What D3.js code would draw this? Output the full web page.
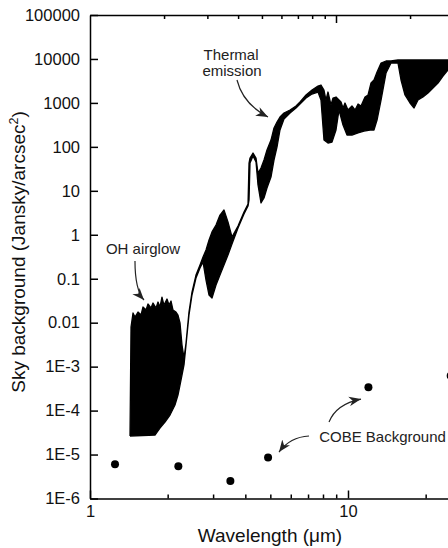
<!DOCTYPE html>
<html>
<head>
<meta charset="utf-8">
<script src="https://cdn.jsdelivr.net/npm/d3@7"></script>
<style>
	body { margin: 0; background: #fff; }
	svg { display: block; font-family: "Liberation Sans", Arial, Helvetica, sans-serif; }
	.axis path, .axis line { stroke: #000; stroke-width: 1.5px; fill: none; }
	.axis text { fill: #111; font-size: 16.5px; }
	.note { fill: #222; font-size: 15px; }
	.title { fill: #111; font-size: 19px; }
</style>
</head>
<body>
<div id="chart"></div>
<script>
// spectrum upper envelope (wavelength in um, sky background in Jy/arcsec2)
var topWl = [1.429, 1.442, 1.468, 1.494, 1.535, 1.576, 1.605, 1.649, 1.678, 1.723, 1.755, 1.803, 1.835, 1.867,
	1.901, 1.935, 1.988, 2.024, 2.061, 2.098, 2.154, 2.193, 2.233, 2.273, 2.314, 2.356, 2.419, 2.485, 2.575,
	2.669, 2.742, 2.816, 2.893, 2.971, 3.079, 3.190, 3.306, 3.426, 3.551, 3.747, 3.953, 4.097, 4.134, 4.171,
	4.284, 4.400, 4.479, 4.600, 4.725, 4.853, 5.029, 5.166, 5.306, 5.450, 5.648, 5.961, 6.288, 6.516, 6.876,
	7.252, 7.650, 7.857, 8.070, 8.216, 8.365, 8.592, 8.747, 8.985, 9.228, 9.395, 9.564, 9.736, 10.0, 10.36,
	10.65, 10.94, 11.23, 11.64, 11.96, 12.28, 12.61, 12.96, 13.43, 14.04, 14.68, 15.62, 24.42, 25.30];
var topJy = [2.64e-5, 0.00796, 0.0166, 0.0134, 0.0175, 0.0149, 0.0227, 0.0194, 0.0266, 0.0216, 0.0280, 0.0216, 0.0295, 0.0227,
	0.0383, 0.0252, 0.0345, 0.0252, 0.0311, 0.0194, 0.0175, 0.0149, 0.00982, 0.00310, 0.00157, 0.00344, 0.0175, 0.0498, 0.121,
	0.205, 0.312, 0.450, 0.760, 1.16, 1.67, 2.81, 3.66, 1.95, 0.889, 1.58, 3.29, 5.01, 42.9, 55.8,
	72.5, 55.8, 25.4, 33.0, 50.2, 84.8, 143, 269, 368, 478, 589, 689, 850, 1048, 1513,
	1966, 2424, 2555, 1966, 1164, 1770, 896, 1293, 1362, 1164, 1048, 766, 995, 689, 850,
	689, 944, 850, 1362, 1513, 2837, 3320, 5049, 8090, 8980, 8980, 9470, 9470, 9470];

// spectrum lower envelope
var botWl = [1.429, 1.786, 1.867, 1.953, 2.042, 2.135, 2.193, 2.233, 2.273, 2.314, 2.356, 2.419, 2.485, 2.575,
	2.669, 2.742, 2.816, 2.893, 2.971, 3.079, 3.190, 3.306, 3.426, 3.551, 3.747, 3.953, 4.097, 4.134, 4.171,
	4.284, 4.400, 4.479, 4.600, 4.725, 4.853, 5.029, 5.166, 5.306, 5.450, 5.648, 5.961, 6.288, 6.516, 6.876,
	7.252, 7.650, 7.857, 8.070, 8.365, 8.670, 8.985, 9.228, 9.564, 9.911, 10.36, 10.94, 11.54, 12.17, 12.61,
	12.96, 13.43, 14.04, 14.68, 15.62, 16.05, 16.63, 17.39, 18.03, 18.68, 19.53, 20.42, 21.35, 22.33, 23.35,
	24.42, 25.30];
var botJy = [2.64e-5, 2.78e-5, 4.01e-5, 5.49e-5, 7.92e-5, 1.34e-4, 2.26e-4, 3.81e-4, 6.44e-4, 1.09e-3, 3.10e-3, 0.0149, 0.0426, 0.104,
	0.175, 0.240, 0.0934, 0.0426, 0.0364, 0.0719, 0.121, 0.205, 0.346, 0.616, 1.42, 2.97, 4.51, 6.18, 42.9,
	61.9, 45.2, 13.6, 5.28, 6.86, 11.6, 20.6, 50.2, 99.2, 242, 430, 589, 766, 944, 1293,
	1594, 1770, 1164, 143, 122, 129, 242, 689, 314, 186, 186, 207, 229, 242, 242,
	408, 1164, 4789, 8090, 8090, 3320, 1513, 995, 766, 1164, 1362, 1680, 2183, 2837, 4094,
	5607, 6227];

// COBE background points
var cobeWl = [1.25, 2.2, 3.5, 4.9, 12, 25];
var cobeJy = [6.0e-6, 5.4e-6, 2.5e-6, 8.6e-6, 3.4e-4, 6.2e-4];

// axis ticks
var yTicks = [1e5, 1e4, 1e3, 1e2, 10, 1, 0.1, 0.01, 1e-3, 1e-4, 1e-5, 1e-6];
var yTickLabels = ["100000", "10000", "1000", "100", "10", "1", "0.1", "0.01", "1E-3", "1E-4", "1E-5", "1E-6"];
var xMajor = [1, 10];
var xMajorLabels = ["1", "10"];
var xMinor = [2, 3, 4, 5, 6, 7, 8, 9, 20];

// annotations: text anchor points and curved arrows [start, control, end], all in data units
var notes = [
	{ lines: ["Thermal", "emission"], wl: [3.521, 3.553], jy: [9470, 4094] },
	{ lines: ["OH airglow"], wl: [1.605], jy: [0.365] },
	{ lines: ["COBE Background"], wl: [13.61], jy: [1.93e-5] }
];
var arrows = [
	{ wl: [3.713, 3.917, 4.897], jy: [3320, 944, 478] },
	{ wl: [1.494, 1.494, 1.619], jy: [0.253, 0.0553, 0.0328] },
	{ wl: [7.062, 5.961, 5.402], jy: [2.64e-5, 2.50e-5, 1.14e-5] },
	{ wl: [8.441, 8.985, 11.23], jy: [5.49e-5, 1.41e-4, 1.83e-4] }
];

(function() {
	var W = 448, H = 548;
	var margin = { left: 90, top: 15, bottom: 498.5 };

	var svg = d3.select("#chart").append("svg")
		.attr("width", W)
		.attr("height", H);

	// the plot runs off the right edge of the picture
	var x = d3.scaleLog().domain([1, 30]).range([margin.left, margin.left + 258 * Math.log10(30)]);
	// the top frame ticks were drawn on a slightly compressed scale
	var xTop = d3.scaleLog().domain([1, 30]).range([margin.left, margin.left + 246 * Math.log10(30)]);
	var y = d3.scaleLog().domain([1e-6, 1e5]).range([margin.bottom, margin.top]);

	var defs = svg.append("defs");
	defs.append("clipPath").attr("id", "plot")
		.append("rect")
		.attr("x", margin.left).attr("y", margin.top)
		.attr("width", x.range()[1] - margin.left).attr("height", margin.bottom - margin.top);

	defs.append("marker")
		.attr("id", "head")
		.attr("markerUnits", "userSpaceOnUse")
		.attr("viewBox", "-12 -5 13 10")
		.attr("markerWidth", 13).attr("markerHeight", 10)
		.attr("refX", 0).attr("refY", 0)
		.attr("orient", "auto")
		.append("path")
		.attr("d", "M0,0L-12,-4.8L-8.5,0L-12,4.8Z")
		.attr("fill", "#222");

	// DATA
	var data_layer = svg.append("g").attr("clip-path", "url(#plot)");

	var outline = topWl.map(function(w, i) { return [w, topJy[i]]; })
		.concat(botWl.map(function(w, i) { return [w, botJy[i]]; }).reverse());

	data_layer.append("path")
		.datum(outline)
		.attr("d", d3.line().x(function(d) { return x(d[0]); }).y(function(d) { return y(d[1]); }))
		.attr("fill", "#000")
		.attr("stroke", "#000")
		.attr("stroke-width", 1.3)
		.attr("stroke-linejoin", "round");

	data_layer.selectAll("circle")
		.data(cobeWl)
		.enter().append("circle")
		.attr("cx", function(d) { return x(d); })
		.attr("cy", function(d, i) { return y(cobeJy[i]); })
		.attr("r", 4)
		.attr("fill", "#000");

	// AXES
	svg.append("g").attr("class", "axis")
		.attr("transform", "translate(0," + margin.bottom + ")")
		.call(d3.axisBottom(x).tickValues(xMinor).tickSizeInner(-4).tickSizeOuter(0).tickFormat(""));

	svg.append("g").attr("class", "axis")
		.attr("transform", "translate(0," + margin.bottom + ")")
		.call(d3.axisBottom(x).tickValues(xMajor).tickSizeInner(-8).tickSizeOuter(0).tickPadding(7)
			.tickFormat(function(d, i) { return xMajorLabels[i]; }))
		.call(function(g) { g.select(".domain").remove(); });

	svg.append("g").attr("class", "axis")
		.attr("transform", "translate(0," + margin.top + ")")
		.call(d3.axisTop(xTop).tickValues(xMinor).tickSizeInner(-4).tickSizeOuter(0).tickFormat(""));

	svg.append("g").attr("class", "axis")
		.attr("transform", "translate(0," + margin.top + ")")
		.call(d3.axisTop(xTop).tickValues([10]).tickSizeInner(-8).tickSizeOuter(0).tickFormat(""))
		.call(function(g) { g.select(".domain").remove(); });

	svg.append("g").attr("class", "axis")
		.attr("transform", "translate(" + margin.left + ",0)")
		.call(d3.axisLeft(y).tickValues(yTicks).tickSizeInner(-8).tickSizeOuter(0).tickPadding(10)
			.tickFormat(function(d, i) { return yTickLabels[i]; }));

	// axis titles
	svg.append("text").attr("class", "title")
		.attr("x", 270).attr("y", 542)
		.attr("text-anchor", "middle")
		.text("Wavelength (\u03bcm)");

	var yt = svg.append("text").attr("class", "title")
		.attr("transform", "translate(25,252)rotate(-90)")
		.attr("text-anchor", "middle");
	yt.append("tspan").text("Sky background (Jansky/arcsec");
	yt.append("tspan").attr("font-size", "12.5px").attr("dy", -7.5).text("2");
	yt.append("tspan").attr("dy", 7.5).text(")");

	// ANNOTATIONS
	notes.forEach(function(n) {
		n.lines.forEach(function(s, i) {
			svg.append("text").attr("class", "note")
				.attr("x", x(n.wl[i])).attr("y", y(n.jy[i]))
				.attr("text-anchor", "middle")
				.text(s);
		});
	});

	arrows.forEach(function(a) {
		var p = a.wl.map(function(w, i) { return [x(w), y(a.jy[i])]; });
		svg.append("path")
			.attr("d", "M" + p[0] + "Q" + p[1] + " " + p[2])
			.attr("fill", "none")
			.attr("stroke", "#222")
			.attr("stroke-width", 1.2)
			.attr("marker-end", "url(#head)");
	});
}());
</script>
</body>
</html>
